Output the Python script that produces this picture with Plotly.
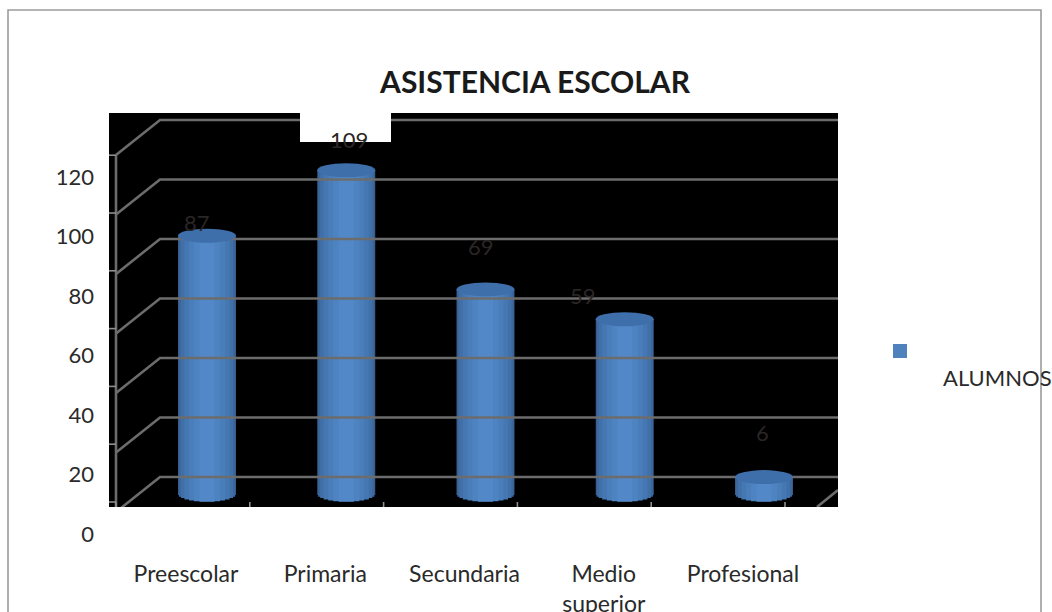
import math
import plotly.graph_objects as go

TITLE = "ASISTENCIA ESCOLAR"
SERIES = "ALUMNOS"
categories = ["Preescolar", "Primaria", "Secundaria", "Medio<br>superior", "Profesional"]
alumnos = [87, 109, 69, 59, 6]
y_ticks = [0, 20, 40, 60, 80, 100, 120]

W, H = 1052, 612
FONT = "Lato"
TXT = "#2a2a2a"
GRID = "#6c6c6c"

# plot window (page pixels) and the scale of the cylinders inside it
L, R, T, B = 109, 838, 113, 507
BAR0_PX, BAR_STEP = 207, 139.25
BASE_PX, UNIT = 495, 2.98
HALF_W = 29 / BAR_STEP      # half cylinder width in category units
CAP_H = 7 / UNIT            # half height of the elliptical ends in value units

def fx(p):
    return (p - BAR0_PX) / BAR_STEP

def fy(p):
    return (BASE_PX - p) / UNIT

def px(x):
    return x / W

def py(y):
    return 1 - y / H

fig = go.Figure()

# back wall gridlines with their diagonal on the side wall
gx, gy = [], []
for v in y_ticks:
    back = 477 - 2.975 * v
    gx += [fx(116), fx(160), fx(R), None]
    gy += [fy(back + 35), fy(back), fy(back), None]
gx += [fx(116), fx(116), None, fx(817), fx(838)]
gy += [fy(155), fy(B), None, fy(507), fy(490)]
fig.add_trace(go.Scatter(x=gx, y=gy, mode="lines", hoverinfo="skip", showlegend=False,
                         line=dict(color=GRID, width=2.6)))

# tick marks on the front edges
tx, ty = [], []
for v in y_ticks:
    f = 502 - 2.89 * v
    tx += [fx(107), fx(116), None]
    ty += [fy(f), fy(f), None]
for i in range(6):
    x = 116 + 133.8 * i
    tx += [fx(x), fx(x), None]
    ty += [fy(502), fy(511), None]
fig.add_trace(go.Scatter(x=tx, y=ty, mode="lines", hoverinfo="skip", showlegend=False,
                         cliponaxis=False, line=dict(color="#8f8f8f", width=1.6)))

# cylinders: nested bars from the outer edge to the lit core
xs = list(range(len(categories)))
bands = [(1.00, "#345a88"), (0.97, "#3b679c"), (0.90, "#4170a8"), (0.78, "#4577b2"),
         (0.62, "#4a7ebb"), (0.45, "#4e83c2"), (0.26, "#5288c8")]
for frac, col in bands:
    drop = CAP_H * math.sqrt(max(0, 1 - frac ** 2))
    fig.add_trace(go.Bar(x=xs, y=[v + drop for v in alumnos], base=-drop, width=2 * HALF_W * frac,
                         name=SERIES, showlegend=False, hoverinfo="skip",
                         marker=dict(color=col, line=dict(width=0))))

# elliptical tops of the cylinders
shapes = []
for i, v in enumerate(alumnos):
    shapes.append(dict(type="circle", xref="x", yref="y", layer="above",
                       x0=i - HALF_W, x1=i + HALF_W, y0=v - CAP_H, y1=v + CAP_H,
                       fillcolor="#3f6fab", line=dict(width=0)))

# black plot area, white patch behind the 109 label, legend key, frame (open at the bottom)
frame = f"M {px(8)} 0 L {px(8)} {py(10)} L {px(1041)} {py(10)} L {px(1041)} 0"
shapes += [
    dict(type="rect", xref="paper", yref="paper", layer="below", x0=px(L), x1=px(R), y0=py(B), y1=py(T),
         fillcolor="black", line=dict(width=0)),
    dict(type="rect", xref="paper", yref="paper", layer="above", x0=px(300), x1=px(391), y0=py(142), y1=py(T),
         fillcolor="white", line=dict(width=0)),
    dict(type="rect", xref="paper", yref="paper", layer="above", x0=px(893), x1=px(907), y0=py(358), y1=py(344),
         fillcolor="#4f81bd", line=dict(width=0)),
    dict(type="path", xref="paper", yref="paper", layer="above", path=frame,
         line=dict(color="#9c9c9c", width=1.6)),
]

# data labels, each sitting where the original left it
label_shift = [(-10, 13), (3, 31), (-5, 43), (-42, 24), (-2, 45)]
annotations = []
for i, (v, (dx, dy)) in enumerate(zip(alumnos, label_shift)):
    annotations.append(dict(x=i, y=v, xref="x", yref="y", text=str(v), showarrow=False,
                            xshift=dx, yshift=dy, font=dict(family=FONT, size=22, color="#2b2626")))
annotations.append(dict(x=px(997), y=py(377), xref="paper", yref="paper", xanchor="center", text=SERIES,
                        showarrow=False, font=dict(family=FONT, size=22, color=TXT)))

# invisible trace so the label-only axes exist
fig.add_trace(go.Scatter(x=[0], y=[0], xaxis="x2", yaxis="y2", mode="markers", hoverinfo="skip",
                         showlegend=False, marker=dict(opacity=0)))

fig.update_layout(
    width=W, height=H, autosize=False,
    margin=dict(l=0, r=0, t=0, b=0, pad=0, autoexpand=False),
    paper_bgcolor="white", plot_bgcolor="rgba(0,0,0,0)",
    barmode="overlay", showlegend=False,
    font=dict(family=FONT, color=TXT),
    title=dict(text=f"<b>{TITLE}</b>", x=px(535), xanchor="center", y=py(82), yanchor="middle",
               font=dict(family=FONT, size=30, color="#1a1a1a")),
    xaxis=dict(domain=[px(L), px(R)], range=[fx(L), fx(R)], visible=False, fixedrange=True),
    yaxis=dict(domain=[py(B), py(T)], range=[fy(B), fy(T)], visible=False, fixedrange=True),
    xaxis2=dict(domain=[0, 1], range=[-186 / BAR_STEP, (W - 186) / BAR_STEP], anchor="free",
                position=py(558), tickmode="array", tickvals=xs, ticktext=categories, ticks="",
                showgrid=False, zeroline=False, showline=False, fixedrange=True, automargin=False,
                tickfont=dict(family=FONT, size=23, color=TXT)),
    yaxis2=dict(domain=[0, 1], range=[(534 - H) / 2.975, 534 / 2.975], anchor="free", position=px(94),
                side="left", tickmode="array", tickvals=y_ticks, ticks="",
                showgrid=False, zeroline=False, showline=False, fixedrange=True, automargin=False,
                tickfont=dict(family=FONT, size=22, color=TXT)),
    shapes=shapes, annotations=annotations,
)

fig.write_html("out.html", config=dict(displayModeBar=False),
               post_script="document.body.style.margin='0';document.body.style.overflow='hidden';"
                           "document.documentElement.style.overflow='hidden';")
